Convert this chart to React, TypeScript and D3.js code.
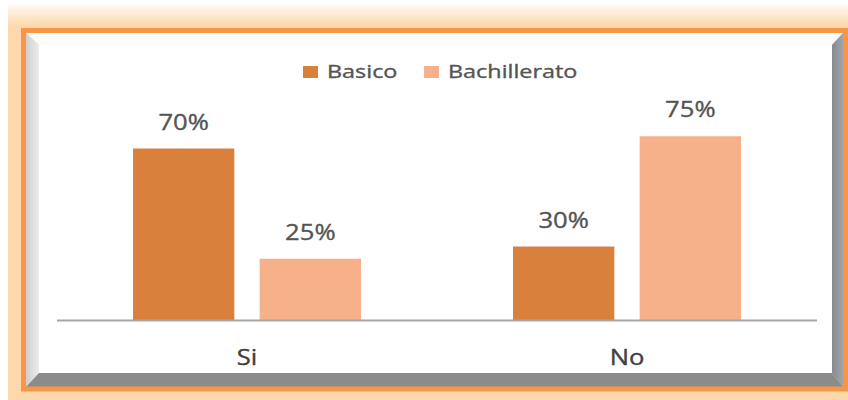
import React from "react";
import * as d3 from "d3";

const categories = ["Si", "No"];
const seriesNames = ["Basico", "Bachillerato"];
const basicoValues = [70, 30];
const bachilleratoValues = [25, 75];
const valueLabels = [["70%", "30%"], ["25%", "75%"]];

const seriesColors = ["#d8803c", "#f6b08a"];
const W = 848;
const H = 400;
const FONT = "'Open Sans', 'DejaVu Sans', sans-serif";
const SX = 1.22;

export default function App() {
  const seriesValues = [basicoValues, bachilleratoValues];
  const x0 = d3.scaleBand<string>().domain(categories).range([57, 817]).paddingInner(0.4).paddingOuter(0.2);
  const x1 = d3.scaleBand<string>().domain(seriesNames).range([0, x0.bandwidth()]).paddingInner(0.2);
  const y = d3.scaleLinear().domain([0, 80]).range([320, 124]);

  const legendX = [303, 424];
  const textStroke = { stroke: "#555555", strokeWidth: 0.35 };

  return (
    <div style={{ position: "fixed", left: 0, top: 0 }}>
      <svg width={W} height={H} style={{ display: "block" }}>
        <defs>
          <linearGradient id="topGlow" x1="0" y1="0" x2="0" y2="1">
            <stop offset="0" stopColor="#ffffff" stopOpacity="0.9" />
            <stop offset="1" stopColor="#ffffff" stopOpacity="0" />
          </linearGradient>
          <linearGradient id="leftBevel" x1="0" y1="0" x2="1" y2="0">
            <stop offset="0" stopColor="#cfcfcf" />
            <stop offset="1" stopColor="#ededed" />
          </linearGradient>
          <linearGradient id="rightBevel" x1="0" y1="0" x2="1" y2="0">
            <stop offset="0" stopColor="#868a92" />
            <stop offset="1" stopColor="#a2a4a8" />
          </linearGradient>
        </defs>
        <rect x={0} y={0} width={W} height={H} fill="#ffffff" />
        {/* outer glow frame */}
        <rect x={8} y={4} width={840} height={396} fill="#fdd8aa" />
        <rect x={8} y={4} width={840} height={22} fill="url(#topGlow)" />
        {/* bevel panel */}
        <polygon points="26,33 843,33 832,45 39,45" fill="#fbfbfb" />
        <polygon points="26,33 39,45 39,373 26,387" fill="url(#leftBevel)" />
        <polygon points="843,33 843,387 832,373 832,45" fill="url(#rightBevel)" />
        <polygon points="26,387 39,373 832,373 843,387" fill="#8b8b8b" />
        <rect x={39} y={45} width={793} height={328} fill="#ffffff" />
        <rect x={23.5} y={30.5} width={822} height={358.5} fill="none" stroke="#f79646" strokeWidth={5} />

        {/* legend */}
        {seriesNames.map((s, i) => (
          <g key={s}>
            <rect x={legendX[i]} y={66} width={15} height={12} fill={seriesColors[i]} />
            <text
              transform={`translate(${legendX[i] + 24},78) scale(${SX + 0.08},1)`}
              fontFamily={FONT}
              fontSize={18}
              fill="#555555"
              {...textStroke}
            >
              {s}
            </text>
          </g>
        ))}

        {/* bars */}
        {categories.map((c, ci) => (
          <g key={c} transform={`translate(${x0(c)},0)`}>
            {seriesNames.map((s, si) => {
              const v = seriesValues[si][ci];
              const bx = x1(s) as number;
              return (
                <g key={s}>
                  <rect x={bx} y={y(v)} width={x1.bandwidth()} height={y(0) - y(v)} fill={seriesColors[si]} />
                  <text
                    transform={`translate(${bx + x1.bandwidth() / 2},${y(v) - 19}) scale(${SX},1)`}
                    textAnchor="middle"
                    fontFamily={FONT}
                    fontSize={21}
                    fill="#555555"
                    {...textStroke}
                  >
                    {valueLabels[si][ci]}
                  </text>
                </g>
              );
            })}
          </g>
        ))}

        {/* axis baseline */}
        <line x1={57} x2={817} y1={y(0) + 0.5} y2={y(0) + 0.5} stroke="#a6a6a6" strokeWidth={2} />

        {/* category labels */}
        {categories.map((c) => (
          <text
            key={c}
            transform={`translate(${(x0(c) as number) + x0.bandwidth() / 2},365) scale(${SX},1)`}
            textAnchor="middle"
            fontFamily={FONT}
            fontSize={21}
            fill="#404040"
            stroke="#404040"
            strokeWidth={0.35}
          >
            {c}
          </text>
        ))}
      </svg>
    </div>
  );
}
